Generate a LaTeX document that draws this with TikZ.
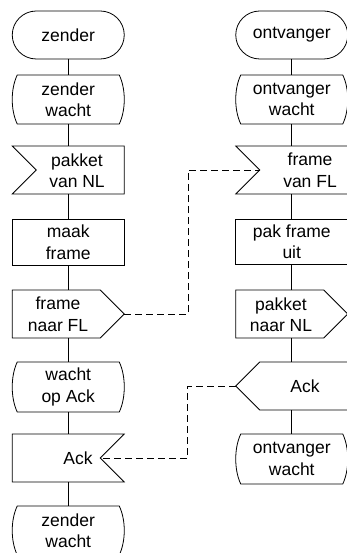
\documentclass[tikz,border=0pt]{standalone}
\usepackage{fontspec}
\setmainfont{Liberation Sans}
\usetikzlibrary{calc}

% outline of a "wait" state: flat top and bottom, bulging sides
\newcommand\waitoutline[1]{%
  \draw ($(#1.north west)+(5,0)$) -- ($(#1.north east)+(-5,0)$)
    .. controls ($(#1.north east)+(1.7,14)$) and ($(#1.south east)+(1.7,-14)$) .. ($(#1.south east)+(-5,0)$)
    -- ($(#1.south west)+(5,0)$)
    .. controls ($(#1.south west)+(-1.7,-14)$) and ($(#1.north west)+(-1.7,14)$) .. cycle;}
% input signal, notch on the left
\newcommand\inleft[1]{%
  \draw (#1.north west) -- (#1.north east) -- (#1.south east) -- (#1.south west)
    -- ($(#1.west)+(24,0)$) -- cycle;}
% input signal, notch on the right
\newcommand\inright[1]{%
  \draw (#1.north west) -- (#1.north east) -- ($(#1.east)+(-24,0)$) -- (#1.south east)
    -- (#1.south west) -- cycle;}
% output signal, pointing right
\newcommand\outright[1]{%
  \draw (#1.north west) -- ($(#1.north east)+(-24,0)$) -- (#1.east)
    -- ($(#1.south east)+(-24,0)$) -- (#1.south west) -- cycle;}
% output signal, pointing left
\newcommand\outleft[1]{%
  \draw ($(#1.north west)+(24,0)$) -- (#1.north east) -- (#1.south east)
    -- ($(#1.south west)+(24,0)$) -- (#1.west) -- cycle;}

\begin{document}
\begin{tikzpicture}[x=1pt, y=-1pt, line width=0.8pt,
  txt/.style={align=center, font=\fontsize{17.5}{21.5}\selectfont, inner sep=0pt},
  frame/.style={txt, minimum width=112pt, minimum height=48pt, outer sep=0pt},
  terminal/.style={frame, draw, rounded corners=24pt},
  taskbox/.style={frame, draw},
  link/.style={dashed, dash pattern=on 7pt off 4pt}]
\useasboundingbox (0,0) rectangle (346,553);

% ---- sender column
\node[terminal] (l1) at (68.25,35) {zender};
\node[frame, minimum height=49pt] (l2) at (68.25,99.5) {zender\\wacht};
\node[frame] (l3) at (68.25,170) {};
\node[taskbox, minimum height=46pt] (l4) at (68.25,242) {maak\\frame};
\node[frame] (l5) at (68.25,314) {};
\node[frame, minimum height=50pt] (l6) at (68.25,387) {wacht\\op Ack};
\node[frame] (l7) at (68.25,458) {};
\node[frame, minimum height=49pt] (l8) at (68.25,530.5) {zender\\wacht};

\waitoutline{l2}
\inleft{l3}
\outright{l5}
\waitoutline{l6}
\inright{l7}
\waitoutline{l8}

\node[txt] (l3t) at (77,170.5) {pakket\\van NL};
\node[txt] (l5t) at (58,314.5) {frame\\naar FL};
\node[txt] (l7t) at (78,458.5) {Ack};

% ---- receiver column
\node[terminal] (r1) at (291.75,35) {ontvanger};
\node[frame, minimum height=49pt] (r2) at (291.75,99.5) {ontvanger\\wacht};
\node[frame] (r3) at (291.75,170) {};
\node[taskbox, minimum height=45pt] (r4) at (291.75,241.5) {pak frame\\uit};
\node[frame] (r5) at (291.75,314) {};
\node[frame] (r6) at (291.75,386) {};
\node[frame, minimum height=50pt] (r7) at (291.75,459) {ontvanger\\wacht};

\waitoutline{r2}
\inleft{r3}
\outright{r5}
\outleft{r6}
\waitoutline{r7}

\node[txt] (r3t) at (310,170.5) {frame\\van FL};
\node[txt] (r5t) at (281,314.5) {pakket\\naar NL};
\node[txt] (r6t) at (305,386.5) {Ack};

% ---- flow lines
\foreach \a/\b in {l1/l2,l2/l3,l3/l4,l4/l5,l5/l6,l6/l7,l7/l8,
                   r1/r2,r2/r3,r3/r4,r4/r5,r5/r6,r6/r7}
  \draw (\a.south) -- (\b.north);

% ---- signals between the columns
\coordinate (r3n) at ($(r3.west)+(24,0)$);
\coordinate (l7n) at ($(l7.east)+(-24,0)$);
\draw[link] (l5.east) -- ++(64,0) |- (r3n);
\draw[link] (r6.west) -- ++(-48,0) |- (l7n);
\end{tikzpicture}
\end{document}
